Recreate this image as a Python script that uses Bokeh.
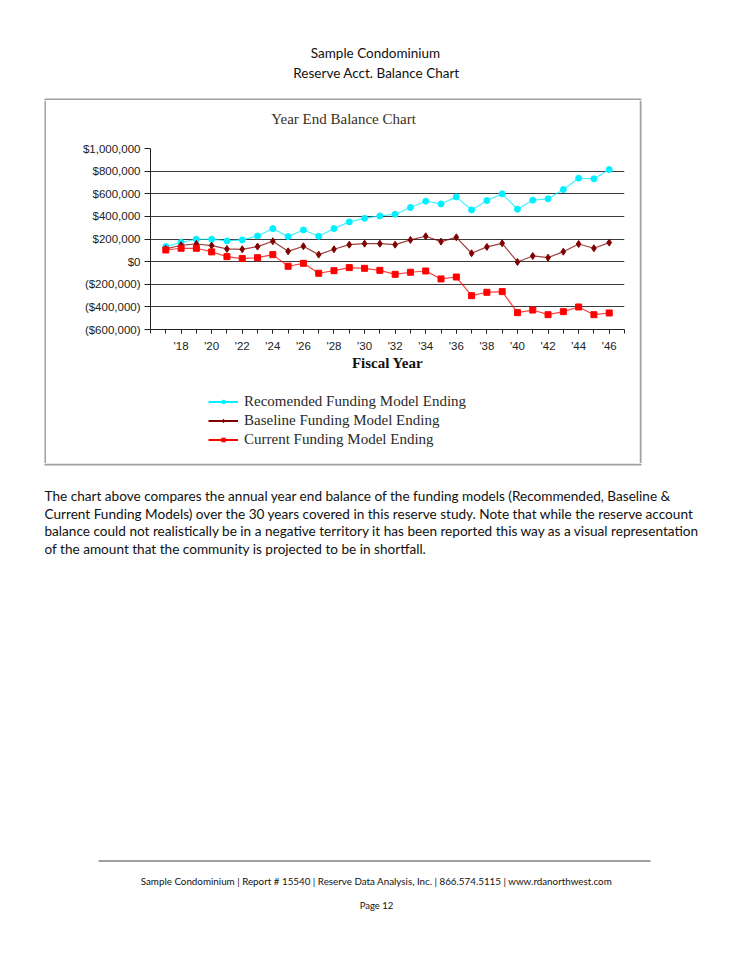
import numpy as np
from bokeh.plotting import figure
from bokeh.layouts import column, row
from bokeh.models import Label, Legend, LegendItem, FixedTicker, Range1d, BoxAnnotation
from bokeh.embed import file_html
from bokeh.resources import INLINE

# ---------------- data ----------------
years = list(range(2017, 2047))
recommended = [133000, 171000, 198000, 198000, 183000, 192000, 227000, 292000, 221000, 280000,
               224000, 292000, 351000, 383000, 404000, 419000, 478000, 534000, 510000, 572000,
               457000, 540000, 599000, 463000, 543000, 555000, 637000, 737000, 732000, 814000]
baseline = [112000, 145000, 156000, 142000, 112000, 109000, 133000, 180000, 91000, 136000,
            62000, 109000, 150000, 159000, 159000, 150000, 192000, 224000, 177000, 215000,
            74000, 130000, 162000, -3000, 50000, 35000, 88000, 156000, 118000, 168000]
current = [103000, 118000, 118000, 86000, 44000, 27000, 35000, 62000, -41000, -15000,
           -103000, -80000, -53000, -59000, -77000, -112000, -94000, -83000, -153000, -136000,
           -301000, -271000, -265000, -451000, -428000, -469000, -442000, -401000, -469000, -454000]
series_names = ["Recomended Funding Model Ending",
                "Baseline Funding Model Ending",
                "Current Funding Model Ending"]
y_ticks = [-600000, -400000, -200000, 0, 200000, 400000, 600000, 800000, 1000000]
y_tick_labels = ["($600,000)", "($400,000)", "($200,000)", "$0", "$200,000",
                 "$400,000", "$600,000", "$800,000", "$1,000,000"]
x_ticks = [2018, 2020, 2022, 2024, 2026, 2028, 2030, 2032, 2034, 2036, 2038, 2040, 2042, 2044, 2046]
x_tick_labels = ["'18", "'20", "'22", "'24", "'26", "'28", "'30", "'32", "'34", "'36",
                 "'38", "'40", "'42", "'44", "'46"]
x_minor = list(range(2016, 2048))
x_limits = (2016, 2047)
y_limits = (-600000, 1000000)

page_title = ["Sample Condominium", "Reserve Acct. Balance Chart"]
chart_title = "Year End Balance Chart"
x_title = "Fiscal Year"
paragraph = [
    "The chart above compares the annual year end balance of the funding models (Recommended, Baseline &",
    "Current Funding Models) over the 30 years covered in this reserve study. Note that while the reserve account",
    "balance could not realistically be in a negative territory it has been reported this way as a visual representation",
    "of the amount that the community is projected to be in shortfall.",
]
footer = "Sample Condominium | Report # 15540 | Reserve Data Analysis, Inc. | 866.574.5115 | www.rdanorthwest.com"
page_no = "Page 12"

# ---------------- page geometry (page pixels) ----------------
PW = 733
BOX_L, BOX_R, BOX_T, BOX_B = 44, 641, 98, 465     # chart box outer edges
BW = 2                                            # box border width
BORDER_COLOR = "#a0a0a0"
IN_L, IN_R, IN_T, IN_B = BOX_L + BW, BOX_R - BW, BOX_T + BW, BOX_B - BW   # 46, 639, 100, 463
PLOT_L, PLOT_R, PLOT_T, PLOT_B = 150, 624, 148, 329                      # plot frame
TITLE_B = 136          # split: title strip / axes figure
LEG_T = 380            # split: axes figure / legend strip


def canvas(x0, x1, y0, y1, border_l=0, border_r=0):
    """Blank figure whose frame maps page pixels x0..x1, y0..y1."""
    f = figure(width=int(x1 - x0 + border_l + border_r), height=int(y1 - y0),
               output_backend="svg", toolbar_location=None,
               x_range=Range1d(x0, x1), y_range=Range1d(y1, y0),
               x_axis_type=None, y_axis_type=None, title=None,
               min_border_left=border_l, min_border_right=border_r,
               min_border_top=0, min_border_bottom=0)
    f.grid.visible = False
    f.outline_line_color = None
    f.background_fill_color = "white"
    f.border_fill_color = "white"
    return f


def rect(f, l, r, t, b, color):
    f.add_layout(BoxAnnotation(left=l, right=r, top=t, bottom=b, fill_color=color,
                               fill_alpha=1, line_color=None))


def add_label(f, text, x, y, font, size, color="#000000", align="center", style="normal"):
    f.add_layout(Label(x=x, y=y, text=text, text_font=font, text_font_size=size,
                       text_color=color, text_align=align, text_baseline="middle",
                       text_font_style=style))


# header (page y 0..100) with the top edge of the chart box
head = canvas(0, PW, 0, IN_T)
add_label(head, page_title[0], 375, 52, "Lato", "13.5px", "#111111")
add_label(head, page_title[1], 376, 72, "Lato", "13.5px", "#111111")
rect(head, BOX_L, BOX_R, BOX_T, IN_T, BORDER_COLOR)

# side strips with the left / right edges of the chart box
left_strip = canvas(0, IN_L, IN_T, IN_B)
rect(left_strip, BOX_L, IN_L, IN_T, IN_B, BORDER_COLOR)
right_strip = canvas(IN_R, PW, IN_T, IN_B)
rect(right_strip, IN_R, BOX_R, IN_T, IN_B, BORDER_COLOR)

BL, BR = PLOT_L - IN_L, IN_R - PLOT_R           # borders around the plot frame (104, 15)

# chart title strip
title_c = canvas(PLOT_L, PLOT_R, IN_T, TITLE_B, BL, BR)
add_label(title_c, chart_title, 343, 118, "Liberation Serif", "15px", "#3a2f25")

# ---------------- chart ----------------
CH = LEG_T - TITLE_B
p = figure(width=IN_R - IN_L, height=CH, output_backend="svg", toolbar_location=None, title=None,
           x_range=Range1d(*x_limits), y_range=Range1d(*y_limits),
           min_border_left=BL, min_border_right=BR,
           min_border_top=PLOT_T - TITLE_B, min_border_bottom=LEG_T - PLOT_B)
p.outline_line_color = None
p.background_fill_color = "white"
p.border_fill_color = "white"
p.xgrid.visible = False
p.ygrid.grid_line_color = "#3a3a3a"
p.ygrid.grid_line_width = 1.2

p.yaxis.ticker = FixedTicker(ticks=y_ticks, minor_ticks=[])
p.yaxis.major_label_overrides = dict(zip(y_ticks, y_tick_labels))
p.xaxis.ticker = FixedTicker(ticks=x_ticks, minor_ticks=x_minor)
p.xaxis.major_label_overrides = dict(zip(x_ticks, x_tick_labels))

for ax in (p.xaxis[0], p.yaxis[0]):
    ax.axis_line_color = "#222222"
    ax.major_tick_line_color = "#222222"
    ax.minor_tick_line_color = "#222222"
    ax.major_tick_in = 0
    ax.minor_tick_in = 0
    ax.major_label_text_font = "Liberation Sans"
    ax.major_label_text_font_size = "11.5px"
    ax.major_label_text_color = "#222222"

p.yaxis.major_tick_out = 6
p.yaxis.major_label_standoff = 4
p.xaxis.major_tick_out = 4
p.xaxis.minor_tick_out = 4
p.xaxis.major_label_standoff = 6
p.xaxis.axis_label = x_title
p.xaxis.axis_label_text_font = "Liberation Serif"
p.xaxis.axis_label_text_font_style = "bold"
p.xaxis.axis_label_text_font_size = "15px"
p.xaxis.axis_label_text_color = "#111111"
p.xaxis.axis_label_standoff = 0

styles = [
    ("#00F0FF", "circle", 6),
    ("#800000", "diamond", 7),
    ("#FF0000", "square", 6),
]
for vals, (color, marker, size) in zip([recommended, baseline, current], styles):
    p.line(years, vals, line_color=color, line_width=1.2, line_alpha=0.75)
    p.scatter(years, vals, marker=marker, size=size, fill_color=color, line_color=color)

# ---------------- legend strip (below the axes, inside the box) ----------------
leg = canvas(PLOT_L, PLOT_R, LEG_T, IN_B, BL, BR)
nan = np.array([np.nan])
items = []
for (color, marker, size), name in zip(styles, series_names):
    ln = leg.line(x=nan, y=nan, line_color=color, line_width=2)
    sc = leg.scatter(x=nan, y=nan, marker=marker, size=4, fill_color=color, line_color=color)
    items.append(LegendItem(label=name, renderers=[ln, sc]))
legend_top, row_h = 391.5, 19
legend = Legend(items=items, location=(208 - PLOT_L, IN_B - (legend_top + 3 * row_h)),
                orientation="vertical", background_fill_alpha=0, border_line_color=None,
                label_text_font="Liberation Serif", label_text_font_size="15px",
                label_text_color="#2a2a2a", glyph_width=30, glyph_height=9,
                label_height=row_h, spacing=0, padding=0, margin=0, label_standoff=6)
leg.add_layout(legend)

# ---------------- bottom text (with bottom edge of the box) ----------------
bot = canvas(0, PW, IN_B, 954)
rect(bot, BOX_L, BOX_R, IN_B, BOX_B, BORDER_COLOR)
for i, line in enumerate(paragraph):
    add_label(bot, line, 44, 495.5 + i * 17.5, "Lato", "13.6px", "#111111", align="left")
rect(bot, 98, 650, 860, 861, "#404040")
add_label(bot, footer, 376, 880, "Lato", "9.8px", "#111111")
add_label(bot, page_no, 376, 905, "Lato", "9.5px", "#111111")

page = column(head,
              row(left_strip, column(title_c, p, leg, spacing=0), right_strip, spacing=0),
              bot, spacing=0)

open("out.html", "w").write(file_html(page, INLINE))
